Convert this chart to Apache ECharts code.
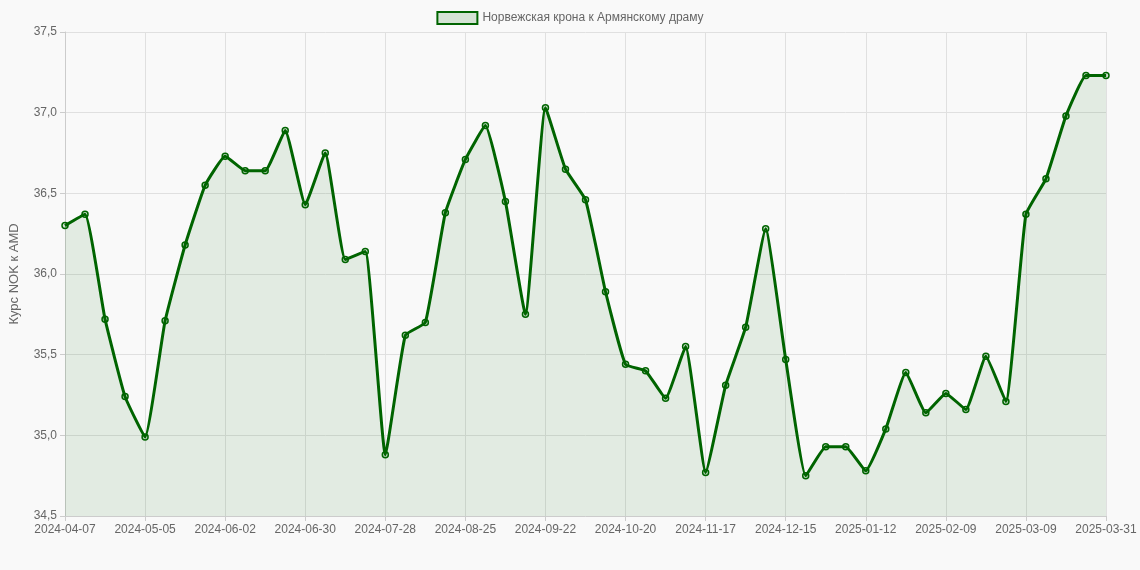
<!DOCTYPE html>
<html><head><meta charset="utf-8">
<script src="https://cdn.jsdelivr.net/npm/echarts@6/dist/echarts.min.js"></script>
<style>html,body{margin:0;background:#f9f9f9}#c{width:1140px;height:570px}</style>
</head><body><div id="c"></div>
<script>
const seriesName = 'Норвежская крона к Армянскому драму';
const axisName = 'Курс NOK к AMD';
const values = [36.30,36.37,35.72,35.24,34.99,35.71,36.18,36.55,36.73,36.64,36.64,36.89,36.43,36.75,36.09,36.14,34.88,35.62,35.70,36.38,36.71,36.92,36.45,35.75,37.03,36.65,36.46,35.89,35.44,35.40,35.23,35.55,34.77,35.31,35.67,36.28,35.47,34.75,34.93,34.93,34.78,35.04,35.39,35.14,35.26,35.16,35.49,35.21,36.37,36.59,36.98,37.23,37.23];
const categories = [];
(function(){const d=new Date(Date.UTC(2024,3,7));for(let i=0;i<52;i++){categories.push(d.toISOString().slice(0,10));d.setUTCDate(d.getUTCDate()+7);}categories.push('2025-03-31');})();
const c = echarts.init(document.getElementById('c'));
c.setOption({
  backgroundColor:'#f9f9f9',
  textStyle:{fontFamily:'Liberation Sans, Arial'},
  legend:{top:6,itemWidth:40,itemHeight:12,textStyle:{color:'#666',fontSize:12},data:[{name:seriesName,icon:'rect'}]},
  grid:{left:62,right:34,top:32,bottom:54},
  xAxis:{type:'category',boundaryGap:false,data:categories,
    axisLine:{lineStyle:{color:'#ccc'}},axisTick:{show:true,interval:3,lineStyle:{color:'#ccc'}},
    axisLabel:{interval:3,color:'#666',fontSize:12},
    splitLine:{show:true,interval:3,lineStyle:{color:'#e0e0e0'}}},
  yAxis:{type:'value',min:34.5,max:37.5,interval:0.5,name:axisName,nameLocation:'middle',nameGap:44,
    nameTextStyle:{color:'#666',fontSize:13},
    axisLine:{show:true,lineStyle:{color:'#ccc'}},axisTick:{show:true,lineStyle:{color:'#ccc'}},
    axisLabel:{color:'#666',fontSize:12,formatter:v=>v.toFixed(1).replace('.',',')},
    splitLine:{lineStyle:{color:'#e0e0e0'}}},
  series:[{name:seriesName,type:'line',data:values,symbol:'circle',symbolSize:6,smooth:0.12,
    lineStyle:{color:'#006400',width:3},
    itemStyle:{color:'rgba(0,100,0,0.15)',borderColor:'#006400',borderWidth:1.5},
    areaStyle:{color:'rgba(0,100,0,0.13)'}}]
});
</script></body></html>
